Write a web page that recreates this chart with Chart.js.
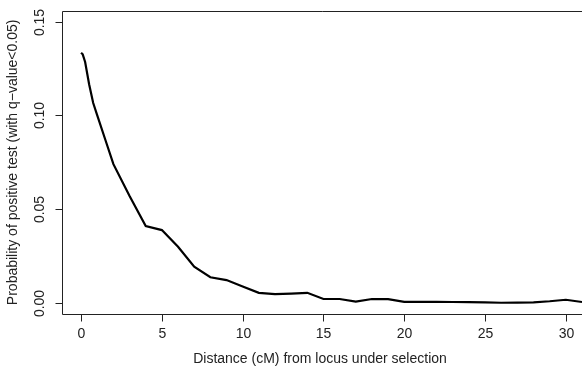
<!DOCTYPE html>
<html>
<head>
<meta charset="utf-8">
<script src="https://cdn.jsdelivr.net/npm/chart.js@4/dist/chart.umd.min.js"></script>
<style>
  html, body { margin: 0; padding: 0; background: #fff; }
  canvas { display: block; }
</style>
</head>
<body>
<canvas id="c" width="582" height="368"></canvas>
<script>
// distance from the selected locus (cM) and probability of a positive test
const distance = [0, 0.1, 0.25, 0.5, 0.75, 1, 1.5, 2, 3, 4, 5, 6, 7, 8, 9, 10, 11, 12, 13, 14, 15,
                  16, 17, 18, 19, 20, 21, 22, 23, 24, 25, 26, 27, 28, 29, 30, 31];
const prob = [0.1335, 0.1326, 0.1285, 0.1165, 0.1066, 0.100, 0.087, 0.074, 0.057, 0.041, 0.0388,
              0.0299, 0.0192, 0.0136, 0.0121, 0.0087, 0.0053, 0.0046, 0.0049, 0.0053, 0.0020,
              0.0020, 0.0006, 0.0020, 0.0019, 0.0005, 0.0005, 0.0005, 0.0004, 0.0003, 0.0002,
              0.0000, 0.0001, 0.0002, 0.0008, 0.0016, 0.0004];
const xTicks = [0, 5, 10, 15, 20, 25, 30];
const yTicks = [0, 0.05, 0.10, 0.15];
const yTickLabels = ['0.00', '0.05', '0.10', '0.15'];
const xTitle = 'Distance (cM) from locus under selection';
const yTitle = 'Probability of positive test (with q\u2212value<0.05)';

const font = '14px "Liberation Sans", Arial, sans-serif';

// base-graphics style frame, ticks and labels
const rAxes = {
    id: 'rAxes',
    afterDraw(chart) {
        const ctx = chart.ctx;
        const a = chart.chartArea;
        const xs = chart.scales.x, ys = chart.scales.y;
        const L = Math.round(a.left) + 0.5, T = Math.round(a.top) + 0.5, B = Math.round(a.bottom) + 0.5;
        ctx.save();
        ctx.strokeStyle = '#222';
        ctx.lineWidth = 1;
        ctx.beginPath();
        ctx.moveTo(582, T); ctx.lineTo(L, T); ctx.lineTo(L, B); ctx.lineTo(582, B);
        ctx.stroke();

        ctx.fillStyle = '#222';
        ctx.font = font;
        ctx.textAlign = 'center';
        ctx.textBaseline = 'middle';
        xTicks.forEach(v => {
            const px = Math.round(xs.getPixelForValue(v)) + 0.5;
            ctx.beginPath(); ctx.moveTo(px, B); ctx.lineTo(px, B + 7); ctx.stroke();
            ctx.fillText(String(v), px, B + 20);
        });
        yTicks.forEach((v, i) => {
            const py = Math.round(ys.getPixelForValue(v)) + 0.5;
            ctx.beginPath(); ctx.moveTo(L, py); ctx.lineTo(L - 7, py); ctx.stroke();
            ctx.save();
            ctx.translate(40, py);
            ctx.rotate(-Math.PI / 2);
            ctx.fillText(yTickLabels[i], 0, 0);
            ctx.restore();
        });

        ctx.fillText(xTitle, 320, 359);
        ctx.save();
        ctx.translate(13, (a.top + a.bottom) / 2);
        ctx.rotate(-Math.PI / 2);
        ctx.fillText(yTitle, 0, 0);
        ctx.restore();
        ctx.restore();
    }
};

new Chart(document.getElementById('c'), {
    type: 'line',
    data: {
        datasets: [{
            data: distance.map((d, i) => ({ x: d, y: prob[i] })),
            borderColor: '#000',
            borderWidth: 2.2,
            pointRadius: 0,
            tension: 0,
            fill: false
        }]
    },
    options: {
        responsive: false,
        animation: false,
        devicePixelRatio: 1,
        layout: { padding: { left: 61.7, top: 10.7, right: 0, bottom: 54 } },
        plugins: { legend: { display: false }, tooltip: { enabled: false } },
        scales: {
            x: { type: 'linear', min: -1.2, max: 31.0, display: false },
            y: { type: 'linear', min: -0.006, max: 0.1559, display: false }
        }
    },
    plugins: [rAxes]
});
</script>
</body>
</html>
